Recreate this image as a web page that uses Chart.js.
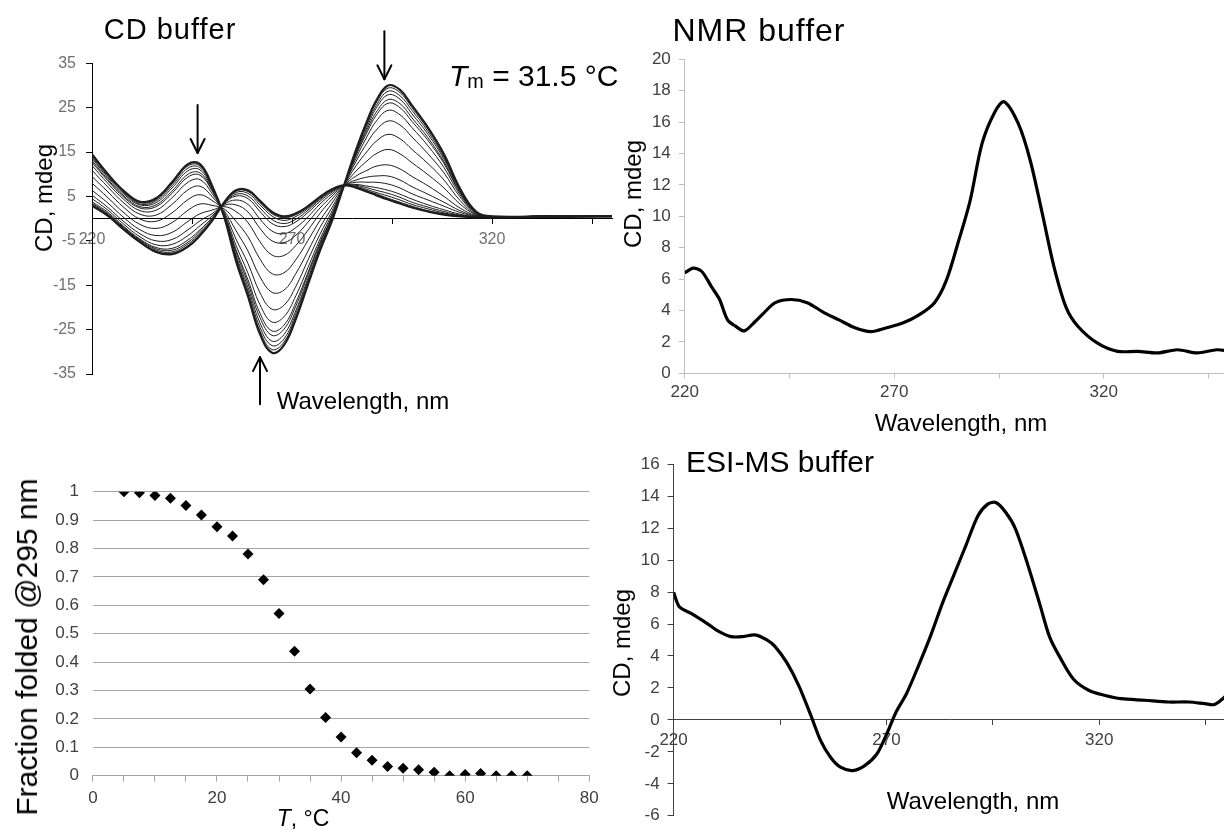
<!DOCTYPE html>
<html><head><meta charset="utf-8">
<script src="https://cdn.jsdelivr.net/npm/chart.js@4.4.1/dist/chart.umd.min.js"></script>
<style>
html,body{margin:0;padding:0;background:#fff;}
body{width:1224px;height:834px;overflow:hidden;position:relative;font-family:'Liberation Sans',Arial,sans-serif;}
canvas{position:absolute;}
.t{position:absolute;white-space:nowrap;line-height:1;color:#000;}
.c{transform:translate(-50%,-50%);}
.r{transform:translate(-50%,-50%) rotate(-90deg);}
</style></head><body>
<canvas id="cA" width="640" height="420" style="left:0;top:0"></canvas>
<canvas id="cB" width="640" height="440" style="left:600px;top:0"></canvas>
<canvas id="cC" width="620" height="394" style="left:0;top:440px"></canvas>
<canvas id="cD" width="640" height="394" style="left:600px;top:440px"></canvas>

<div class="t c" style="left:170px;top:29px;font-size:29px;letter-spacing:1px">CD buffer</div>
<div class="t" style="left:449px;top:76px;transform:translate(0,-50%);font-size:30px"><i>T</i><span style="font-size:0.66em;position:relative;top:0.12em">m</span> = 31.5 °C</div>
<div class="t r" style="left:44px;top:198px;font-size:24px">CD, mdeg</div>
<div class="t c" style="left:363px;top:401px;font-size:24px">Wavelength, nm</div>

<div class="t c" style="left:759px;top:30px;font-size:32px;letter-spacing:1px">NMR buffer</div>
<div class="t r" style="left:633px;top:194px;font-size:24px">CD, mdeg</div>
<div class="t c" style="left:961px;top:423px;font-size:24px">Wavelength, nm</div>

<div class="t r" style="left:27px;top:647px;font-size:30px">Fraction folded @295 nm</div>
<div class="t c" style="left:303px;top:818px;font-size:23px"><i>T</i>, °C</div>

<div class="t c" style="left:780px;top:462px;font-size:30px">ESI-MS buffer</div>
<div class="t r" style="left:622px;top:643px;font-size:24px">CD, mdeg</div>
<div class="t c" style="left:973px;top:801px;font-size:24px">Wavelength, nm</div>

<script>
// ---------- CD buffer: spectra at increasing temperature ----------
const cdWavelength = [220,224,228,232,236,240,244,247,250,253,256,259,262,265,268,271,274,277,280,283,286,289,291,294,297,300,304,308,312,316,320,335,350];
const cd5    = [14.5,10.0,6.2,3.8,4.6,8.2,12.3,12.3,7.5,0.5,-9.5,-17.5,-26.0,-30.2,-28.5,-22.5,-14.8,-7.2,-0.5,7.5,15.5,22.5,26.5,30.0,29.0,25.5,20.5,14.5,6.8,1.6,0.5,0.6,0.5];
const cd12_5 = [14.2,9.8,6.0,3.6,4.3,7.8,11.9,11.9,7.3,0.6,-9.1,-17.0,-25.3,-29.5,-27.8,-22.0,-14.4,-6.9,-0.3,7.5,15.3,22.1,26.0,29.4,28.4,25.0,20.1,14.2,6.7,1.6,0.5,0.6,0.5];
const cd15   = [13.9,9.5,5.8,3.3,4.0,7.4,11.4,11.5,7.1,0.7,-8.7,-16.3,-24.5,-28.6,-27.1,-21.3,-13.9,-6.6,-0.1,7.5,15.1,21.7,25.4,28.7,27.7,24.4,19.6,13.8,6.5,1.5,0.5,0.6,0.5];
const cd17_5 = [13.6,9.2,5.5,3.1,3.6,6.9,10.8,11.0,6.8,0.8,-8.2,-15.5,-23.5,-27.6,-26.1,-20.6,-13.4,-6.2,0.1,7.5,14.8,21.1,24.8,27.9,26.9,23.6,19.0,13.4,6.3,1.5,0.5,0.6,0.5];
const cd20   = [13.1,8.8,5.1,2.7,3.1,6.2,10.0,10.3,6.5,0.9,-7.5,-14.6,-22.3,-26.3,-24.9,-19.6,-12.6,-5.7,0.4,7.5,14.5,20.5,23.9,26.8,25.9,22.7,18.2,12.8,6.0,1.4,0.5,0.6,0.5];
const cd22_5 = [12.7,8.5,4.8,2.4,2.7,5.7,9.4,9.8,6.3,1.0,-7.0,-13.8,-21.3,-25.3,-24.0,-18.8,-12.1,-5.3,0.6,7.5,14.2,19.9,23.2,26.0,25.0,21.9,17.6,12.4,5.8,1.4,0.5,0.6,0.5];
const cd25   = [12.0,7.9,4.3,1.8,1.9,4.7,8.2,8.8,5.7,1.2,-6.0,-12.3,-19.4,-23.3,-22.1,-17.3,-11.0,-4.6,1.1,7.5,13.6,18.9,21.9,24.4,23.4,20.5,16.4,11.5,5.4,1.3,0.4,0.6,0.5];
const cd27_5 = [10.9,7.1,3.5,1.0,0.8,3.2,6.5,7.3,5.0,1.5,-4.6,-10.1,-16.7,-20.4,-19.5,-15.2,-9.3,-3.5,1.7,7.5,12.9,17.4,19.9,22.0,21.1,18.4,14.6,10.3,4.9,1.2,0.4,0.6,0.5];
const cd30   = [9.5,6.0,2.5,-0.1,-0.6,1.3,4.3,5.4,4.1,1.8,-2.7,-7.3,-13.1,-16.6,-16.1,-12.3,-7.3,-2.0,2.5,7.5,11.9,15.4,17.4,19.0,18.0,15.6,12.4,8.7,4.1,1.0,0.4,0.6,0.5];
const cd32_5 = [8.0,4.7,1.3,-1.3,-2.2,-0.9,1.9,3.3,3.0,2.2,-0.6,-4.1,-9.1,-12.4,-12.2,-9.2,-4.9,-0.4,3.5,7.5,10.7,13.2,14.6,15.6,14.6,12.6,9.9,6.9,3.3,0.9,0.4,0.5,0.5];
const cd35   = [6.4,3.5,0.2,-2.5,-3.8,-3.1,-0.6,1.1,1.9,2.7,1.6,-0.9,-5.2,-8.2,-8.3,-6.0,-2.6,1.2,4.4,7.5,9.6,11.0,11.8,12.1,11.2,9.5,7.4,5.0,2.4,0.7,0.3,0.5,0.5];
const cd37_5 = [5.3,2.5,-0.7,-3.4,-5.0,-4.7,-2.5,-0.5,1.1,3.0,3.1,1.5,-2.2,-5.0,-5.4,-3.7,-0.8,2.4,5.1,7.5,8.7,9.4,9.6,9.6,8.7,7.2,5.5,3.7,1.8,0.6,0.3,0.5,0.5];
const cd40   = [4.5,1.9,-1.3,-4.1,-5.9,-5.8,-3.8,-1.6,0.6,3.2,4.2,3.2,-0.1,-2.8,-3.4,-2.0,0.4,3.3,5.6,7.5,8.2,8.2,8.2,7.8,6.9,5.6,4.2,2.8,1.4,0.5,0.3,0.5,0.5];
const cd42_5 = [3.8,1.4,-1.8,-4.6,-6.5,-6.7,-4.8,-2.5,0.2,3.4,5.1,4.5,1.6,-1.1,-1.8,-0.7,1.4,3.9,6.0,7.5,7.7,7.3,7.0,6.4,5.5,4.4,3.1,2.0,1.0,0.4,0.3,0.4,0.5];
const cd45   = [3.5,1.1,-2.0,-4.8,-6.8,-7.1,-5.3,-2.9,-0.1,3.4,5.5,5.1,2.4,-0.2,-1.1,-0.1,1.9,4.3,6.2,7.5,7.5,6.9,6.4,5.7,4.8,3.7,2.6,1.6,0.8,0.4,0.3,0.4,0.5];
const cd47_5 = [3.3,0.9,-2.2,-5.0,-7.1,-7.5,-5.7,-3.3,-0.3,3.5,5.9,5.7,3.1,0.6,-0.4,0.5,2.3,4.5,6.4,7.5,7.3,6.5,5.9,5.1,4.2,3.2,2.2,1.3,0.7,0.3,0.3,0.4,0.5];
const cd55   = [3.0,0.7,-2.4,-5.2,-7.4,-7.8,-6.1,-3.6,-0.4,3.6,6.2,6.1,3.6,1.1,0.2,0.9,2.6,4.8,6.5,7.5,7.1,6.2,5.6,4.6,3.7,2.8,1.8,1.1,0.6,0.3,0.3,0.4,0.5];
const cd70   = [2.9,0.6,-2.5,-5.3,-7.5,-8.0,-6.3,-3.8,-0.5,3.6,6.4,6.4,4.0,1.5,0.5,1.2,2.8,4.9,6.6,7.5,7.0,6.0,5.3,4.3,3.4,2.5,1.6,0.9,0.5,0.3,0.3,0.4,0.5];
const cdSpectra = [cd5,cd12_5,cd15,cd17_5,cd20,cd22_5,cd25,cd27_5,cd30,cd32_5,cd35,cd37_5,cd40,cd42_5,cd45,cd47_5,cd55,cd70];
const cdXTicks = [220,245,270,295,320,345];
const cdXLabels = [220,270,320];
const cdYTicks = [-35,-25,-15,-5,5,15,25,35];

// ---------- NMR buffer ----------
const nmrWavelength = [220,222,224,226.4,228.3,230.2,232.1,234.2,236.8,238.7,241.6,245.4,249.2,253,256.8,260.6,264.4,268.2,272,275.8,279.6,282.4,285.2,288.1,290.9,293.9,296.2,299.6,302.4,305.3,308.1,311,313.8,318.6,323.3,328.1,332.8,337.6,342.3,347,350];
const nmrCD = [6.4,6.7,6.5,5.5,4.7,3.4,3.0,2.7,3.3,3.8,4.5,4.7,4.5,3.9,3.4,2.9,2.65,2.9,3.2,3.7,4.5,5.9,8.3,11.0,14.6,16.6,17.3,15.9,13.6,10.2,6.8,4.2,3.0,1.9,1.4,1.4,1.3,1.5,1.3,1.5,1.4];
const nmrXTicks = [220,245,270,295,320,345];
const nmrXLabels = [220,270,320];
const nmrYTicks = [0,2,4,6,8,10,12,14,16,18,20];

// ---------- Melting curve ----------
const meltTemp = [5,7.5,10,12.5,15,17.5,20,22.5,25,27.5,30,32.5,35,37.5,40,42.5,45,47.5,50,52.5,55,57.5,60,62.5,65,67.5,70];
const fractionFolded = [1.0,0.996,0.987,0.977,0.951,0.918,0.877,0.844,0.781,0.69,0.571,0.438,0.305,0.205,0.136,0.081,0.054,0.032,0.026,0.021,0.012,0.0,0.004,0.008,0.0,0.0,0.0];
const fracXTicks = [0,5,10,15,20,25,30,35,40,45,50,55,60,65,70,75,80];
const fracXLabels = [0,20,40,60,80];
const fracYTicks = [0,0.1,0.2,0.3,0.4,0.5,0.6,0.7,0.8,0.9,1];

// ---------- ESI-MS buffer ----------
const esiWavelength = [220,221.4,224.2,227.9,230.7,233.5,236.3,239.1,241.9,243.8,246.6,249.4,252.2,254.6,256.9,259.2,262.1,264.9,267.7,270,272.3,274.7,277.5,280.3,283.1,285.9,288.7,291.5,293.8,295.7,298,300.3,303.2,306,308.3,310.6,313.9,317.6,321.4,325.1,330.7,336.3,341,344.8,347,349,350];
const esiCD = [7.98,7.06,6.65,6.03,5.52,5.21,5.21,5.32,5.01,4.6,3.58,2.15,0.31,-1.33,-2.35,-2.96,-3.17,-2.86,-2.15,-0.92,0.51,1.64,3.37,5.21,7.26,9.1,10.94,12.78,13.5,13.6,12.99,11.96,9.71,7.26,5.21,3.99,2.56,1.84,1.53,1.33,1.23,1.12,1.12,1.02,0.96,1.33,1.6];
const esiXTicks = [220,245,270,295,320,345];
const esiXLabels = [220,270,320];
const esiYTicks = [-6,-4,-2,0,2,4,6,8,10,12,14,16];

// ---------- helpers ----------
Chart.defaults.font.family = "'Liberation Sans', Arial, sans-serif";
const fixedTicks = vals => s => { s.ticks = vals.map(v => ({value: v})); };
const fixW = w => s => { s.width = w; };
const fixH = h => s => { s.height = h; };
const pts = (xs, ys) => xs.map((x, i) => ({x, y: ys[i]}));
const common = {responsive:false, animation:false, devicePixelRatio:1,
  plugins:{legend:{display:false}, tooltip:{enabled:false}}};

// arrow annotations (in data units of the CD-buffer plot)
const arrowMarks = [
  {wl:246.4, from:25.6, to:14.8},
  {wl:293.1, from:42.2, to:31.4},
  {wl:262.0, from:-41.8, to:-31.2}
];
const arrowPlugin = {
  id:'arrows',
  afterDraw(chart){
    const {ctx, scales:{x, y}} = chart;
    ctx.save();
    ctx.strokeStyle = '#000'; ctx.lineWidth = 2; ctx.lineCap = 'round'; ctx.lineJoin='round';
    arrowMarks.forEach(a => {
      const px = x.getPixelForValue(a.wl);
      const y0 = y.getPixelForValue(a.from), y1 = y.getPixelForValue(a.to);
      const dir = y1 > y0 ? 1 : -1;
      ctx.beginPath(); ctx.moveTo(px, y0); ctx.lineTo(px, y1); ctx.stroke();
      ctx.beginPath(); ctx.moveTo(px - 7, y1 - dir*14); ctx.lineTo(px, y1); ctx.lineTo(px + 7, y1 - dir*14); ctx.stroke();
    });
    ctx.restore();
  }
};

// ---------- Chart A: CD buffer ----------
new Chart(document.getElementById('cA'), {
  type:'scatter',
  data:{datasets: cdSpectra.map((arr, i) => ({
    data: pts(cdWavelength, arr), showLine:true, pointRadius:0,
    borderColor:'#1e1e1e', borderWidth:(i === 0 || i === cdSpectra.length - 1) ? 2.2 : 1,
    tension:0.4
  }))},
  options:{...common,
    layout:{padding:{left:42, top:63.3, right:28, bottom:46}},
    scales:{
      x:{type:'linear', min:220, max:350, position:{y:0},
        afterBuildTicks: fixedTicks(cdXTicks),
        ticks:{callback:v => cdXLabels.includes(v) ? String(v) : '', color:'#707070', font:{size:16}, padding:6, autoSkip:false, maxRotation:0},
        grid:{drawOnChartArea:false, drawTicks:true, tickLength:5, color:'#000'},
        border:{display:true, color:'#000', width:1}},
      y:{type:'linear', min:-35, max:35, position:'left', afterFit: fixW(50),
        afterBuildTicks: fixedTicks(cdYTicks),
        ticks:{callback:v => String(v), color:'#707070', font:{size:16}, padding:10},
        grid:{drawOnChartArea:false, drawTicks:true, tickLength:6, color:'#000'},
        border:{display:true, color:'#000', width:1}}
    }
  },
  plugins:[arrowPlugin]
});

// ---------- Chart B: NMR buffer ----------
new Chart(document.getElementById('cB'), {
  type:'scatter',
  data:{datasets:[{data: pts(nmrWavelength, nmrCD), showLine:true, pointRadius:0, borderColor:'#000', borderWidth:3.2, tension:0.3}]},
  options:{...common,
    layout:{padding:{left:29.8, top:59.3, right:10.5, bottom:26.7}},
    scales:{
      x:{type:'linear', min:220, max:350, position:'bottom', afterFit: fixH(40),
        afterBuildTicks: fixedTicks(nmrXTicks),
        ticks:{callback:v => nmrXLabels.includes(v) ? String(v) : '', color:'#404040', font:{size:17}, padding:3.5, autoSkip:false, maxRotation:0},
        grid:{drawOnChartArea:false, drawTicks:true, tickLength:5, color:'#bfbfbf'},
        border:{display:true, color:'#bfbfbf', width:1}},
      y:{type:'linear', min:0, max:20, position:'left', afterFit: fixW(55),
        afterBuildTicks: fixedTicks(nmrYTicks),
        ticks:{callback:v => String(v), color:'#404040', font:{size:17}, padding:8},
        grid:{drawOnChartArea:false, drawTicks:true, tickLength:6, color:'#bfbfbf'},
        border:{display:true, color:'#bfbfbf', width:1}}
    }
  }
});

// ---------- Chart C: fraction folded ----------
new Chart(document.getElementById('cC'), {
  type:'scatter',
  data:{datasets:[{data: pts(meltTemp, fractionFolded), pointStyle:'rectRot', pointRadius:5.5, backgroundColor:'#000', borderColor:'#000', borderWidth:0}]},
  options:{...common,
    layout:{padding:{left:42.9, top:51.7, right:30.8, bottom:18.3}},
    scales:{
      x:{type:'linear', min:0, max:80, position:'bottom', afterFit: fixH(40),
        afterBuildTicks: fixedTicks(fracXTicks),
        ticks:{callback:v => fracXLabels.includes(v) ? String(v) : '', color:'#404040', font:{size:17}, padding:6, autoSkip:false, maxRotation:0},
        grid:{drawOnChartArea:false, drawTicks:true, tickLength:6, color:'#a6a6a6'},
        border:{display:true, color:'#a6a6a6', width:1}},
      y:{type:'linear', min:0, max:1, position:'left', afterFit: fixW(50),
        afterBuildTicks: fixedTicks(fracYTicks),
        ticks:{callback:v => String(v), color:'#404040', font:{size:17}, padding:14},
        grid:{drawOnChartArea:true, drawTicks:false, color:'#a6a6a6', lineWidth:1},
        border:{display:false}}
    }
  }
});

// ---------- Chart D: ESI-MS buffer ----------
new Chart(document.getElementById('cD'), {
  type:'scatter',
  data:{datasets:[{data: pts(esiWavelength, esiCD), showLine:true, pointRadius:0, borderColor:'#000', borderWidth:3.2, tension:0.3}]},
  options:{...common,
    layout:{padding:{left:28.6, top:24.2, right:13, bottom:11.2}},
    scales:{
      x:{type:'linear', min:220, max:350, position:{y:0},
        afterBuildTicks: fixedTicks(esiXTicks),
        ticks:{callback:v => esiXLabels.includes(v) ? String(v) : '', color:'#404040', font:{size:17}, padding:4.8, autoSkip:false, maxRotation:0},
        grid:{drawOnChartArea:false, drawTicks:true, tickLength:5, color:'#404040'},
        border:{display:true, color:'#404040', width:1}},
      y:{type:'linear', min:-6, max:16, position:'left', afterFit: fixW(45),
        afterBuildTicks: fixedTicks(esiYTicks),
        ticks:{callback:v => String(v), color:'#404040', font:{size:17}, padding:8},
        grid:{drawOnChartArea:false, drawTicks:true, tickLength:6, color:'#404040'},
        border:{display:true, color:'#404040', width:1}}
    }
  }
});
</script>
</body></html>
